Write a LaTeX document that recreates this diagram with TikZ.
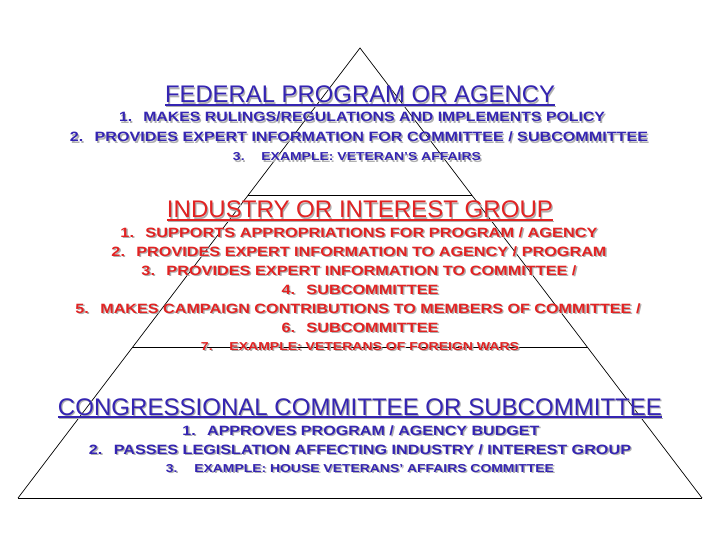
\documentclass[tikz,border=0pt]{standalone}
\usepackage{fontspec}
\setmainfont{Liberation Sans}
\usepackage{graphicx}
\usetikzlibrary{calc}
\definecolor{tblue}{RGB}{52,36,178}
\definecolor{tred}{RGB}{226,34,34}
\definecolor{shad}{RGB}{175,175,175}
\newcommand{\ulx}[1]{\setbox0\hbox{#1}\rlap{\rule[-3pt]{\wd0}{1.6pt}}\box0}
\newcommand{\shd}[1]{\rlap{\kern1.2pt\raisebox{-1.2pt}{\color{shad}#1}}#1}
\newcommand{\fitw}[2]{\resizebox{#1pt}{\height}{#2}}
\tikzset{
  hdr/.style={anchor=base,inner sep=0pt,font=\fontsize{24}{24}\selectfont},
  itm/.style={anchor=base,inner sep=0pt,font=\bfseries\fontsize{13.5}{13.5}\selectfont},
  exm/.style={anchor=base,inner sep=0pt,font=\bfseries\fontsize{11.5}{11.5}\selectfont},
  tri/.style={line width=0.7pt,black},
  sep/.style={line width=1pt,black}
}
\begin{document}
\begin{tikzpicture}[x=1pt,y=-1pt]
\useasboundingbox (0,0) rectangle (720,540);
\coordinate (apex) at (360,48);
\coordinate (bl) at (18,498);
\coordinate (br) at (702,498);
\coordinate (s1l) at ($(apex)!148/450!(bl)$);
\coordinate (s1r) at ($(apex)!148/450!(br)$);
\coordinate (s2l) at ($(apex)!300/450!(bl)$);
\coordinate (s2r) at ($(apex)!300/450!(br)$);
\draw[tri] (bl) -- (apex) -- (br);
\draw[sep] (bl) -- (br);
\draw[sep] (s1l) -- (s1r);
\draw[sep] (s2l) -- (s2r);

% federal
\node[hdr,text=tblue] (fh) at (360,103) {\fitw{390}{\shd{\ulx{FEDERAL PROGRAM OR AGENCY}}}};
\node[itm,text=tblue] (f1) at (362,122) {\fitw{486}{\shd{1.\hspace{0.7em}MAKES RULINGS/REGULATIONS AND IMPLEMENTS POLICY}}};
\node[itm,text=tblue] (f2) at (359,142) {\fitw{578}{\shd{2.\hspace{0.7em}PROVIDES EXPERT INFORMATION FOR COMMITTEE / SUBCOMMITTEE}}};
\node[exm,text=tblue] (f3) at (357,161) {\fitw{248}{\shd{3.\hspace{1.2em}EXAMPLE: VETERAN’S AFFAIRS}}};

% industry
\node[hdr,text=tred] (ih) at (360,218) {\fitw{386}{\shd{\ulx{INDUSTRY OR INTEREST GROUP}}}};
\node[itm,text=tred] (i1) at (359,237) {\fitw{477}{\shd{1.\hspace{0.7em}SUPPORTS APPROPRIATIONS FOR PROGRAM / AGENCY}}};
\node[itm,text=tred] (i2) at (359,256) {\fitw{495}{\shd{2.\hspace{0.7em}PROVIDES EXPERT INFORMATION TO AGENCY / PROGRAM}}};
\node[itm,text=tred] (i3) at (359,275) {\fitw{435}{\shd{3.\hspace{0.7em}PROVIDES EXPERT INFORMATION TO COMMITTEE /}}};
\node[itm,text=tred] (i4) at (360,294) {\fitw{157}{\shd{4.\hspace{0.7em}SUBCOMMITTEE}}};
\node[itm,text=tred] (i5) at (358,313) {\fitw{565}{\shd{5.\hspace{0.7em}MAKES CAMPAIGN CONTRIBUTIONS TO MEMBERS OF COMMITTEE /}}};
\node[itm,text=tred] (i6) at (360,332) {\fitw{157}{\shd{6.\hspace{0.7em}SUBCOMMITTEE}}};
\node[exm,text=tred] (i7) at (360,350) {\fitw{318}{\shd{7.\hspace{1.2em}EXAMPLE: VETERANS OF FOREIGN WARS}}};

% congress
\node[hdr,text=tblue] (ch) at (360,415) {\fitw{604}{\shd{\ulx{CONGRESSIONAL COMMITTEE OR SUBCOMMITTEE}}}};
\node[itm,text=tblue] (c1) at (361,435) {\fitw{357}{\shd{1.\hspace{0.7em}APPROVES PROGRAM / AGENCY BUDGET}}};
\node[itm,text=tblue] (c2) at (360,454) {\fitw{542}{\shd{2.\hspace{0.7em}PASSES LEGISLATION AFFECTING INDUSTRY / INTEREST GROUP}}};
\node[exm,text=tblue] (c3) at (360,472) {\fitw{388}{\shd{3.\hspace{1.2em}EXAMPLE: HOUSE VETERANS’ AFFAIRS COMMITTEE}}};
\end{tikzpicture}
\end{document}
